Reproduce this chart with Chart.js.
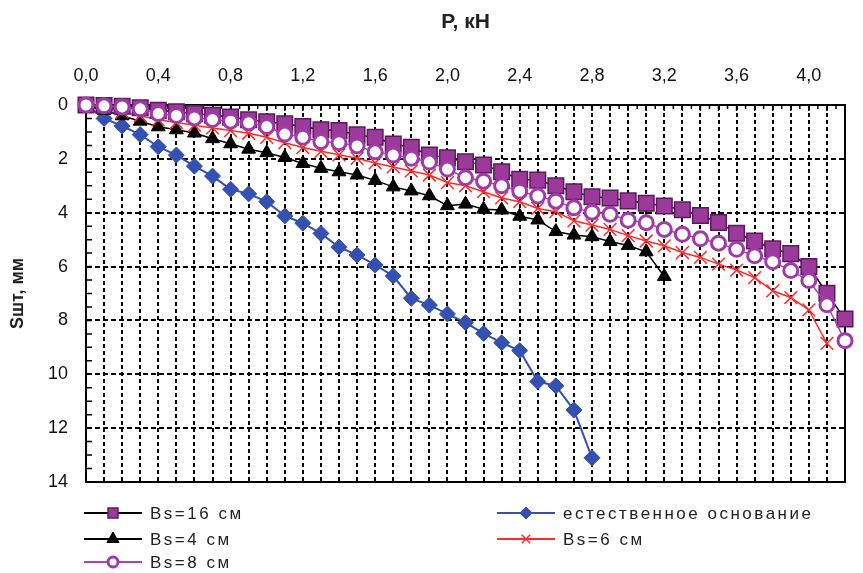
<!DOCTYPE html>
<html>
<head>
<meta charset="utf-8">
<script src="https://cdn.jsdelivr.net/npm/chart.js@4.4.0/dist/chart.umd.min.js"></script>
<style>
  html, body { margin: 0; padding: 0; background: #fff; }
</style>
</head>
<body>
<canvas id="chart" width="863" height="573"></canvas>
<script>
// load steps, kN
const loadP = [0.0, 0.1, 0.2, 0.3, 0.4, 0.5, 0.6, 0.7, 0.8, 0.9,
  1.0, 1.1, 1.2, 1.3, 1.4, 1.5, 1.6, 1.7, 1.8, 1.9,
  2.0, 2.1, 2.2, 2.3, 2.4, 2.5, 2.6, 2.7, 2.8, 2.9,
  3.0, 3.1, 3.2, 3.3, 3.4, 3.5, 3.6, 3.7, 3.8, 3.9,
  4.0, 4.1, 4.2];

// settlement, mm
const sBs16 = [0, 0.02, 0.05, 0.1, 0.2, 0.25, 0.32, 0.38, 0.45, 0.55,
  0.62, 0.7, 0.8, 0.92, 0.95, 1.11, 1.2, 1.45, 1.57, 1.86,
  1.96, 2.11, 2.23, 2.48, 2.76, 2.79, 3.0, 3.22, 3.41, 3.45,
  3.56, 3.65, 3.75, 3.89, 4.1, 4.36, 4.76, 5.05, 5.34, 5.52,
  6.0, 6.99, 7.95];
const sBs8 = [0, 0.03, 0.07, 0.14, 0.32, 0.39, 0.48, 0.54, 0.6, 0.66,
  0.8, 1.08, 1.2, 1.36, 1.4, 1.52, 1.74, 1.86, 1.98, 2.12,
  2.38, 2.7, 2.83, 3.0, 3.2, 3.38, 3.57, 3.82, 3.98, 4.06,
  4.28, 4.37, 4.62, 4.8, 4.97, 5.13, 5.36, 5.6, 5.82, 6.15,
  6.52, 7.42, 8.75];
const sBs6 = [0, 0.1, 0.25, 0.4, 0.55, 0.65, 0.75, 0.85, 0.95, 1.05,
  1.2, 1.4, 1.58, 1.72, 1.85, 1.98, 2.15, 2.3, 2.45, 2.6,
  2.88, 3.0, 3.22, 3.45, 3.59, 3.84, 3.96, 4.3, 4.46, 4.62,
  4.85, 5.05, 5.23, 5.48, 5.66, 5.91, 6.13, 6.41, 6.9, 7.15,
  7.61, 8.85];
const sBs4 = [0, 0.2, 0.4, 0.6, 0.81, 0.92, 1.04, 1.25, 1.44, 1.64,
  1.77, 1.95, 2.17, 2.35, 2.48, 2.6, 2.8, 3.04, 3.19, 3.37,
  3.74, 3.68, 3.87, 3.9, 4.13, 4.27, 4.7, 4.83, 4.89, 5.07,
  5.22, 5.45, 6.37];
const sNatural = [0, 0.5, 0.78, 1.1, 1.55, 1.86, 2.27, 2.64, 3.13, 3.3,
  3.59, 4.12, 4.39, 4.77, 5.28, 5.57, 5.94, 6.35, 7.18, 7.43,
  7.76, 8.08, 8.48, 8.83, 9.12, 10.27, 10.43, 11.33, 13.1];

// labelled ticks on the load axis
const xTickLabels = [0.0, 0.4, 0.8, 1.2, 1.6, 2.0, 2.4, 2.8, 3.2, 3.6, 4.0];

const FONT = "'Liberation Sans', Arial, sans-serif";
const NARROW = "'Liberation Sans Narrow', 'Liberation Sans', Arial, sans-serif";

function pairs(values) {
  return values.map((s, i) => ({ x: loadP[i], y: s }));
}

// frame + small inner ticks
const framePlugin = {
  id: 'frame',
  beforeDatasetsDraw(chart) {
    const { ctx, chartArea: a, scales } = chart;
    ctx.save();
    ctx.strokeStyle = '#000';
    ctx.lineWidth = 1.5;
    ctx.beginPath();
    for (let i = 0; i <= 84; i++) {
      const x = scales.x.getPixelForValue(i * 0.05);
      ctx.moveTo(x, a.top);
      ctx.lineTo(x, a.top + (i % 2 === 0 ? 6 : 4));
    }
    for (let i = 0; i <= 28; i++) {
      const y = scales.y.getPixelForValue(i * 0.5);
      ctx.moveTo(a.left, y);
      ctx.lineTo(a.left + 6, y);
    }
    ctx.stroke();
    ctx.lineWidth = 2;
    ctx.strokeRect(a.left, a.top, a.right - a.left, a.bottom - a.top);
    ctx.restore();
  }
};

// two column legend like the original
const legendPlugin = {
  id: 'sideLegend',
  afterDraw(chart) {
    const { ctx } = chart;
    const items = [
      { ds: 0, x: 84, y: 513, r: 7 },
      { ds: 3, x: 84, y: 539, r: 7 },
      { ds: 1, x: 84, y: 562, r: 5 },
      { ds: 4, x: 497, y: 513, r: 6 },
      { ds: 2, x: 497, y: 539, r: 6 }
    ];
    items.forEach(it => {
      const d = chart.data.datasets[it.ds];
      ctx.save();
      ctx.strokeStyle = d.borderColor;
      ctx.lineWidth = 2;
      ctx.beginPath();
      ctx.moveTo(it.x, it.y);
      ctx.lineTo(it.x + 58, it.y);
      ctx.stroke();
      ctx.fillStyle = d.pointBackgroundColor;
      ctx.strokeStyle = d.pointBorderColor;
      ctx.lineWidth = d.pointBorderWidth;
      Chart.helpers.drawPoint(ctx, {
        pointStyle: d.pointStyle, radius: it.r, rotation: 0, borderWidth: d.pointBorderWidth
      }, it.x + 29, it.y);
      ctx.fillStyle = '#222';
      ctx.font = '17px ' + FONT;
      ctx.letterSpacing = '2.5px';
      ctx.textBaseline = 'middle';
      ctx.fillText(d.label, it.x + 66, it.y + 1);
      ctx.restore();
    });
  }
};

new Chart(document.getElementById('chart'), {
  type: 'line',
  data: {
    datasets: [
      {
        label: 'Bs=16 см',
        data: pairs(sBs16),
        borderColor: '#000',
        borderWidth: 1.5,
        pointStyle: 'rect',
        pointRadius: 11,
        pointBackgroundColor: '#9b3a9b',
        pointBorderColor: '#5c1a5c',
        pointBorderWidth: 1.5,
        order: 2
      },
      {
        label: 'Bs=8 см',
        data: pairs(sBs8),
        borderColor: '#b040b0',
        borderWidth: 1.5,
        pointStyle: 'circle',
        pointRadius: 7,
        pointBackgroundColor: '#fff',
        pointBorderColor: '#a03aa8',
        pointBorderWidth: 3,
        order: 1
      },
      {
        label: 'Bs=6 см',
        data: pairs(sBs6),
        borderColor: '#ff2a2a',
        borderWidth: 1.5,
        pointStyle: 'crossRot',
        pointRadius: 9,
        pointBackgroundColor: '#ff2a2a',
        pointBorderColor: '#ff2a2a',
        pointBorderWidth: 1.5,
        order: 3
      },
      {
        label: 'Bs=4 см',
        data: pairs(sBs4),
        borderColor: '#000',
        borderWidth: 1.5,
        pointStyle: 'triangle',
        pointRadius: 8,
        pointBackgroundColor: '#000',
        pointBorderColor: '#000',
        pointBorderWidth: 1,
        order: 4
      },
      {
        label: 'естественное основание',
        data: pairs(sNatural),
        borderColor: '#3450b0',
        borderWidth: 2,
        pointStyle: 'rectRot',
        pointRadius: 8,
        pointBackgroundColor: '#3450b0',
        pointBorderColor: '#3450b0',
        pointBorderWidth: 1,
        order: 5
      }
    ]
  },
  options: {
    responsive: false,
    animation: false,
    clip: false,
    elements: { line: { tension: 0 } },
    layout: { padding: { top: 0, right: 1, bottom: 91, left: 0 } },
    plugins: {
      legend: { display: false },
      tooltip: { enabled: false }
    },
    scales: {
      x: {
        type: 'linear',
        position: 'top',
        min: 0,
        max: 4.2,
        afterFit(scale) { scale.height = 105; },
        title: {
          display: true,
          text: 'P, кН',
          color: '#222',
          font: { family: FONT, size: 21, weight: 'bold' },
          padding: { top: 10, bottom: 0 }
        },
        ticks: {
          stepSize: 0.1,
          autoSkip: false,
          maxRotation: 0,
          padding: 18,
          color: '#111',
          font: { family: NARROW, size: 18 },
          callback(v) {
            const ok = xTickLabels.some(t => Math.abs(t - v) < 1e-6);
            return ok ? v.toFixed(1).replace('.', ',') : '';
          }
        },
        grid: { color: '#000', lineWidth: 2, drawTicks: false },
        border: { display: true, color: '#000', width: 2, dash: [4, 3] }
      },
      y: {
        type: 'linear',
        reverse: true,
        min: 0,
        max: 14,
        afterFit(scale) { scale.width = 86; },
        title: {
          display: true,
          text: 'Sшт, мм',
          color: '#222',
          font: { family: FONT, size: 18, weight: 'bold' },
          padding: { top: 7, bottom: 0 }
        },
        ticks: {
          stepSize: 2,
          padding: 18,
          color: '#111',
          font: { family: FONT, size: 18 }
        },
        grid: { color: '#000', lineWidth: 2, drawTicks: false },
        border: { display: true, color: '#000', width: 2, dash: [5, 3] }
      }
    }
  },
  plugins: [framePlugin, legendPlugin]
});
</script>
</body>
</html>
